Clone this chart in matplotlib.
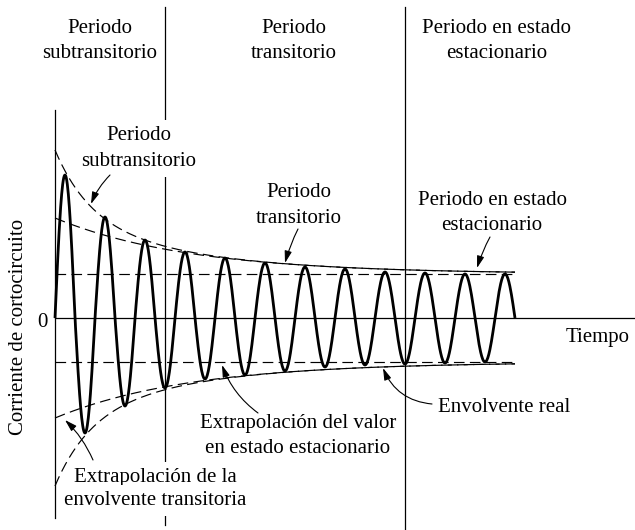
import numpy as np
import matplotlib.pyplot as plt

plt.rcParams['font.family'] = ['Liberation Serif', 'DejaVu Serif']

# === 1. Valores (unidades: px desde el eje / desde el cero) ===
periodo = 40                      # duración de un ciclo
picos_sup = [143, 101, 78, 66, 60, 55, 51, 49, 46, 45, 44, 44]
picos_inf = [115, 88, 70, 61, 57, 53, 49, 47, 46, 45, 44]

amp_estacionaria = 44             # valor de régimen permanente
amp_transitoria0 = 100            # extrapolación transitoria en t = 0
amp_subtransitoria0 = 168         # envolvente real en t = 0
tau_transitoria = 135
tau_subtransitoria = 35
t_fin = 460                       # fin de la onda dibujada

x_div = [110, 350]                # separación de los periodos

# === 2. Figura ===
fig = plt.figure(figsize=(6.35, 5.3), dpi=100)
ax = fig.add_axes([0, 0, 1, 1])
ax.set_xlim(-55, 580)
ax.set_ylim(-212, 318)
ax.axis('off')

# ejes
ax.plot([0, 0], [208, -200], color='black', lw=0.9, zorder=2)
ax.plot([0, 580], [0, 0], color='black', lw=0.9, zorder=2)
ax.plot([x_div[0], x_div[0]], [311, -207], color='black', lw=0.9, zorder=1)
ax.plot([x_div[1], x_div[1]], [311, -212], color='black', lw=0.9, zorder=1)

# === 3. Corriente (medio ciclo por pico) ===
medio = periodo / 2
amps = []
for k in range(len(picos_sup) + len(picos_inf)):
    if k % 2 == 0:
        amps.append(picos_sup[k // 2])
    else:
        amps.append(-picos_inf[k // 2])

t_onda = []
i_onda = []
for k, a in enumerate(amps):
    tt = np.linspace(k * medio, (k + 1) * medio, 40)
    t_onda.append(tt)
    i_onda.append(a * np.sin(np.pi * (tt - k * medio) / medio))
t_onda = np.concatenate(t_onda)
i_onda = np.concatenate(i_onda)
ax.plot(t_onda, i_onda, color='black', lw=2.0, zorder=5, solid_capstyle='butt')

# === 4. Envolventes ===
t = np.linspace(0, t_fin, 400)
env_trans = amp_estacionaria + (amp_transitoria0 - amp_estacionaria) * np.exp(-t / tau_transitoria)
env_real = env_trans + (amp_subtransitoria0 - amp_transitoria0) * np.exp(-t / tau_subtransitoria)

estilo = dict(color='black', lw=0.85, linestyle=(0, (9, 4.5)), zorder=4)
for s in (1, -1):
    ax.plot([0, t_fin], [s * amp_estacionaria, s * amp_estacionaria], **estilo)
    ax.plot(t, s * env_trans, **estilo)
    ax.plot(t, s * env_real, **estilo)

# === 5. Textos ===
fs = 15
caja = dict(boxstyle='square,pad=0.28', facecolor='white', edgecolor='none')


def lineas(x, ys, textos, fondo=False):
    for y, txt in zip(ys, textos):
        ax.text(x, y, txt, fontsize=fs, ha='center', va='baseline', zorder=3,
                bbox=caja if fondo else None)


lineas(45, [285, 260], ["Periodo", "subtransitorio"])
lineas(239, [285, 260], ["Periodo", "transitorio"])
lineas(442, [285, 260], ["Periodo en estado", "estacionario"])

lineas(84, [178, 152], ["Periodo", "subtransitorio"], fondo=True)
lineas(244, [121, 95], ["Periodo", "transitorio"])
lineas(437, [113, 88], ["Periodo en estado", "estacionario"])

ax.text(543, -24, "Tiempo", fontsize=fs, ha='center', va='baseline')
ax.text(449, -94, "Envolvente real", fontsize=fs, ha='center', va='baseline')
lineas(243, [-110, -135], ["Extrapolación del valor", "en estado estacionario"])
lineas(100, [-164, -187], ["Extrapolación de la", "envolvente transitoria"], fondo=True)

ax.text(-13, -9, "0", fontsize=fs, ha='center', va='baseline')
ax.text(-36.5, -9, "Corriente de cortocircuito", fontsize=fs, rotation=90,
        ha='center', va='center')

# === 6. Flechas ===
flechas = [
    ((55, 143), (36, 114), 0.1),
    ((243, 89), (230, 55), 0.05),
    ((435, 81), (422, 50), 0.05),
    ((377, -86), (328, -50), -0.3),
    ((203, -95), (167, -47), -0.15),
    ((38, -142), (10, -102), 0.1),
]
for ini, fin, rad in flechas:
    ax.annotate("", xy=fin, xytext=ini, zorder=6,
                arrowprops=dict(arrowstyle='-|>,head_length=0.6,head_width=0.18',
                                color='black', lw=0.8, mutation_scale=12,
                                shrinkA=0, shrinkB=0,
                                connectionstyle=f'arc3,rad={rad}'))

plt.savefig("out.png", dpi=100)
